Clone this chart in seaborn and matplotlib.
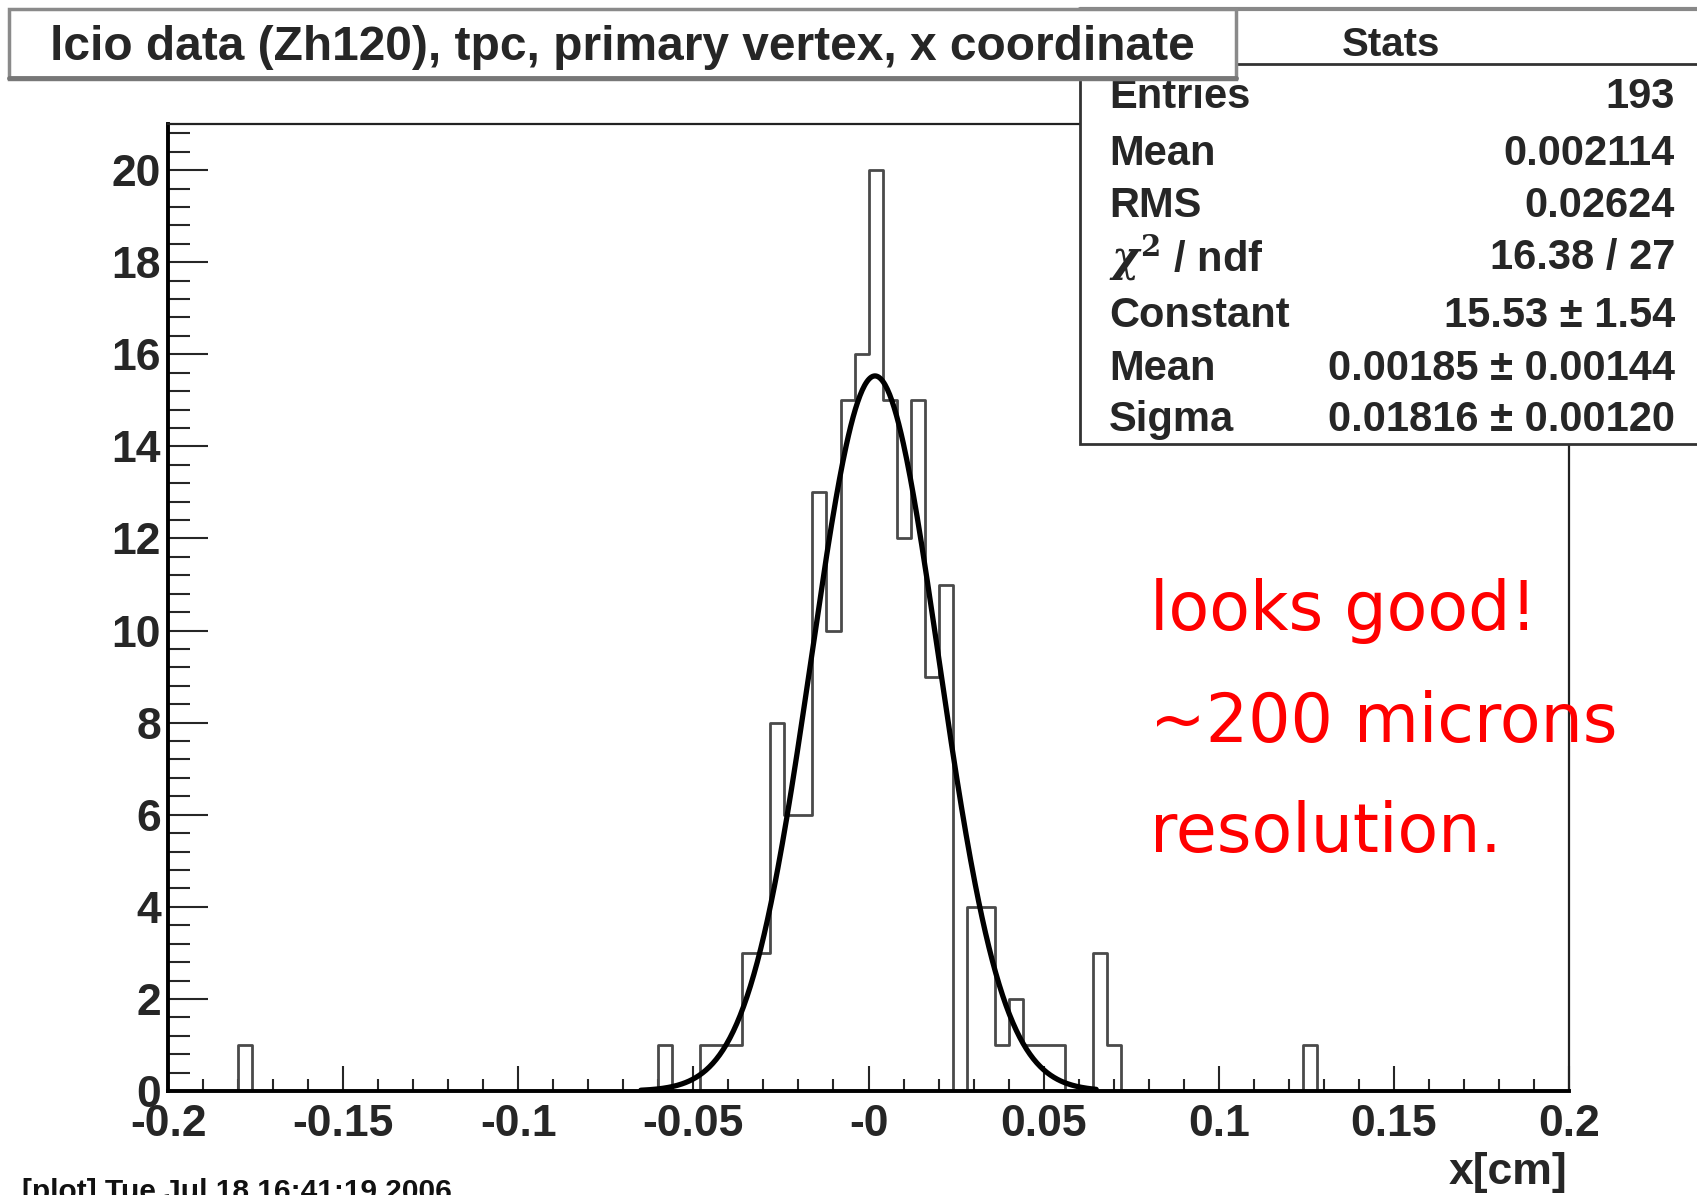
import numpy as np
import pandas as pd
import seaborn as sns
import matplotlib
matplotlib.use("Agg")
from matplotlib import pyplot as plt
from matplotlib.patches import Rectangle
from matplotlib.lines import Line2D
from matplotlib.ticker import MultipleLocator

# histogram: 100 bins of 0.004 cm between -0.2 and 0.2
x_lo, x_hi, n_bins = -0.2, 0.2, 100
counts = [0, 0, 0, 0, 0, 1, 0, 0, 0, 0,
          0, 0, 0, 0, 0, 0, 0, 0, 0, 0,
          0, 0, 0, 0, 0, 0, 0, 0, 0, 0,
          0, 0, 0, 0, 0, 1, 0, 0, 1, 1,
          1, 3, 3, 8, 6, 6, 13, 10, 15, 16,
          20, 15, 12, 15, 9, 11, 0, 4, 4, 1,
          2, 1, 1, 1, 0, 0, 3, 1, 0, 0,
          0, 0, 0, 0, 0, 0, 0, 0, 0, 0,
          0, 1, 0, 0, 0, 0, 0, 0, 0, 0,
          0, 0, 0, 0, 0, 0, 0, 0, 0, 0]

# gaussian fit parameters (from the stats box)
fit_const, fit_mean, fit_sigma = 15.53, 0.00185, 0.01816
fit_range = (-0.065, 0.065)

x_ticks = [-0.2, -0.15, -0.1, -0.05, 0.0, 0.05, 0.1, 0.15, 0.2]
x_ticklabels = ["-0.2", "-0.15", "-0.1", "-0.05", "-0", "0.05", "0.1", "0.15", "0.2"]
y_ticks = [0, 2, 4, 6, 8, 10, 12, 14, 16, 18, 20]

stats_names = ["Entries", "Mean", "RMS", r"$\chi^{2}$ / ndf", "Constant", "Mean", "Sigma"]
stats_values = ["193", "0.002114", "0.02624", "16.38 / 27",
                "15.53 \u00b1 1.54", "0.00185 \u00b1 0.00144", "0.01816 \u00b1 0.00120"]
note_lines = ["looks good!", "~200 microns", "resolution."]

sns.set_style("ticks")
plt.rcParams["font.family"] = ["Liberation Sans", "DejaVu Sans"]
plt.rcParams["font.weight"] = "bold"
plt.rcParams["mathtext.fontset"] = "dejavuserif"

edges = np.linspace(x_lo, x_hi, n_bins + 1)
df = pd.DataFrame({"x": (edges[:-1] + edges[1:]) / 2, "n": counts})

xf = np.linspace(fit_range[0], fit_range[1], 400)
fit = pd.DataFrame({"x": xf, "y": fit_const * np.exp(-0.5 * ((xf - fit_mean) / fit_sigma) ** 2)})

fig = plt.figure(figsize=(16.97, 11.95), dpi=100)
ax = fig.add_axes([0.099, 0.087, 0.8256, 0.8092])

sns.histplot(data=df, x="x", weights="n", bins=edges.tolist(), element="step", fill=False,
             color="#4a4a4a", linewidth=2.0, ax=ax)
sns.lineplot(data=fit, x="x", y="y", color="black", linewidth=3.8, ax=ax)

ax.set_xlim(x_lo, x_hi)
ax.set_ylim(0, 21)
ax.set_xlabel("")
ax.set_ylabel("")
ax.set_xticks(x_ticks)
ax.set_xticklabels(x_ticklabels)
ax.set_yticks(y_ticks)
ax.xaxis.set_minor_locator(MultipleLocator(0.01))
ax.yaxis.set_minor_locator(MultipleLocator(0.4))
ax.tick_params(axis="x", which="major", direction="in", length=18, width=1.5, pad=9, labelsize=32)
ax.tick_params(axis="x", which="minor", direction="in", length=9, width=1.5)
ax.tick_params(axis="y", which="major", direction="in", length=29, width=1.5, pad=5, labelsize=32)
ax.tick_params(axis="y", which="minor", direction="in", length=16, width=1.5)
for s in ["left", "bottom"]:
    ax.spines[s].set_linewidth(2.8)
    ax.spines[s].set_color("black")
for s in ["top", "right"]:
    ax.spines[s].set_visible(True)
    ax.spines[s].set_linewidth(1.6)
    ax.spines[s].set_color("#222222")

fig.text(0.9234, 0.019, "x[cm]", ha="right", va="center", fontsize=32)

# stats box (drawn over the axes)
fig.patches.append(Rectangle((0.6364, 0.6285), 0.37, 0.364, transform=fig.transFigure,
                             facecolor="white", edgecolor="#333333", linewidth=2, zorder=5))
fig.lines.append(Line2D([0.72, 1.0], [0.9464, 0.9464], transform=fig.transFigure,
                        color="#333333", linewidth=2, zorder=6))
fig.lines.append(Line2D([0.6364, 1.0], [0.9925, 0.9925], transform=fig.transFigure,
                        color="#888888", linewidth=3, zorder=6))
fig.text(0.8197, 0.9625, "Stats", ha="center", va="center", fontsize=29, zorder=6)
row_y = [0.9188, 0.8711, 0.8276, 0.7841, 0.7356, 0.6912, 0.6485]
for yy, name, val in zip(row_y, stats_names, stats_values):
    fig.text(0.6535, yy, name, ha="left", va="center", fontsize=30, zorder=6)
    fig.text(0.9870, yy, val, ha="right", va="center", fontsize=30, zorder=6)

# title box
fig.patches.append(Rectangle((0.0053, 0.9339), 0.723, 0.0586, transform=fig.transFigure,
                             facecolor="white", edgecolor="#8a8a8a", linewidth=2.5, zorder=7))
fig.lines.append(Line2D([0.0053, 0.7283], [0.9345, 0.9345], transform=fig.transFigure,
                        color="#777777", linewidth=3.5, zorder=8))
fig.text(0.3665, 0.9600, "lcio data (Zh120), tpc, primary vertex, x coordinate",
         ha="center", va="center", fontsize=34.5, zorder=9)

# hand-written note
for yy, line in zip([0.4887, 0.3950, 0.3029], note_lines):
    fig.text(0.6777, yy, line, ha="left", va="center", color="#ff0000",
             fontsize=48, fontweight="normal", family=["DejaVu Sans"])

fig.text(0.013, 0.0142, "[plot] Tue Jul 18 16:41:19 2006", ha="left", va="top",
         fontsize=21.5, color="#111111")

fig.savefig("out.png", dpi=100)
